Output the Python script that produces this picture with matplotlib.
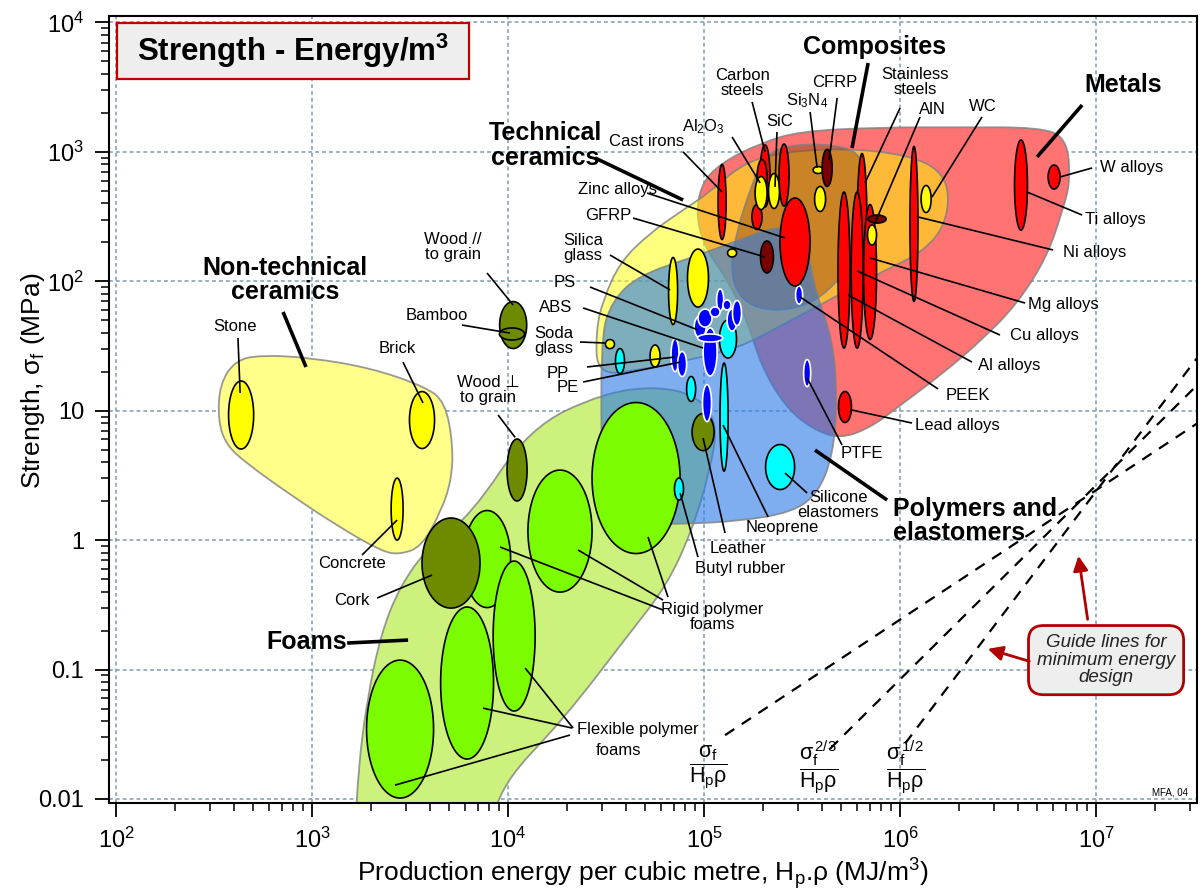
import numpy as np
import matplotlib
from matplotlib import pyplot as plt
from matplotlib.path import Path
from matplotlib.patches import PathPatch, Rectangle
from matplotlib.ticker import NullFormatter

matplotlib.use('Agg')

plt.rcParams['font.family'] = ['Liberation Sans', 'DejaVu Sans']
plt.rcParams['mathtext.fontset'] = 'custom'
plt.rcParams['mathtext.rm'] = 'Liberation Sans'
plt.rcParams['mathtext.it'] = 'Liberation Sans:italic'
plt.rcParams['mathtext.bf'] = 'Liberation Sans:bold'

# ---- all values as log10(production energy, MJ/m3) and log10(strength, MPa) ----

# family envelopes (outline control points)
foam_e = [3.22, 3.90, 3.97, 4.28, 4.62, 4.81, 4.94, 5.03, 5.07, 4.98, 4.78, 4.49, 4.11, 3.81, 3.60, 3.45, 3.35, 3.28, 3.235]
foam_s = [-2.30, -2.30, -1.88, -1.39, -0.72, -0.35, 0.08, 0.54, 0.89, 1.10, 1.19, 1.14, 0.87, 0.19, -0.04, -0.35, -0.73, -1.24, -1.78]

nontech_e = [2.52, 2.53, 2.61, 2.74, 2.99, 3.30, 3.57, 3.68, 3.72, 3.71, 3.66, 3.56, 3.45, 3.36, 3.14, 2.89, 2.66, 2.56]
nontech_s = [0.93, 1.21, 1.39, 1.43, 1.41, 1.33, 1.19, 1.07, 0.72, 0.46, 0.23, -0.05, -0.11, -0.09, 0.10, 0.35, 0.60, 0.74]

metal_e = [4.98, 5.08, 5.29, 5.49, 5.90, 6.31, 6.71, 6.85, 6.87, 6.83, 6.75, 6.60, 6.42, 6.22, 6.00, 5.85, 5.69, 5.54, 5.41, 5.29, 5.22, 5.12, 5.02, 4.96]
metal_s = [2.74, 2.91, 3.07, 3.16, 3.19, 3.19, 3.19, 3.11, 2.78, 2.55, 2.19, 1.83, 1.55, 1.29, 1.04, 0.87, 0.78, 0.87, 1.04, 1.35, 1.70, 2.01, 2.22, 2.47]

tech_e = [4.454, 4.449, 4.485, 4.571, 4.724, 4.878, 5.031, 5.219, 5.490, 5.796, 6.051, 6.204, 6.255, 6.219,
          6.102, 6.0, 5.796, 5.592, 5.352, 5.184, 4.929, 4.673]
tech_s = [1.276, 1.624, 1.856, 2.149, 2.373, 2.536, 2.690, 2.937, 3.015, 3.022, 2.968, 2.860, 2.667, 2.397,
          2.219, 2.141, 1.987, 1.817, 1.624, 1.492, 1.392, 1.315]

comp_e = [5.352, 5.490, 5.668, 5.786, 5.827, 5.827, 5.786, 5.694, 5.541, 5.337, 5.184, 5.133, 5.168, 5.235, 5.286]
comp_s = [3.015, 3.061, 3.053, 3.000, 2.822, 2.512, 2.242, 2.010, 1.817, 1.763, 1.856, 2.087, 2.397, 2.706, 2.899]

poly_e = [4.485, 4.469, 4.531, 4.673, 4.929, 5.179, 5.337, 5.464, 5.531, 5.566, 5.658, 5.679, 5.658, 5.582,
          5.454, 5.184, 4.878, 4.597]
poly_s = [0.117, 1.546, 1.856, 2.049, 2.180, 2.319, 2.412, 2.412, 2.242, 1.933, 1.546, 1.083, 0.658, 0.364,
          0.217, 0.147, 0.124, 0.124]

# material bubbles: centre and full span in decades
ell_kind = ['foam', 'natural', 'foam', 'foam', 'foam', 'foam', 'foam',
            'natural', 'natural', 'natural', 'natural',
            'ceramic', 'ceramic', 'ceramic',
            'elast', 'elast', 'elast', 'elast', 'elast', 'elast',
            'polymer', 'polymer', 'polymer', 'polymer', 'polymer', 'polymer', 'polymer', 'polymer',
            'polymer', 'polymer', 'polymer', 'polymer', 'polymer', 'polymer',
            'ceramic', 'ceramic', 'ceramic', 'ceramic',
            'metal', 'metal', 'metal', 'metal', 'ceramic', 'ceramic', 'metal', 'ceramic', 'composite', 'metal',
            'ceramic', 'ceramic', 'composite', 'metal', 'metal', 'metal', 'metal', 'ceramic', 'composite',
            'metal', 'ceramic', 'metal', 'metal', 'metal']
ell_e = [3.893, 3.709, 3.449, 3.791, 4.031, 4.265, 4.653,
         4.026, 4.020, 4.046, 4.995,
         2.638, 3.561, 3.434,
         4.872, 5.102, 5.388, 4.934, 4.571, 5.122,
         5.015, 4.852, 4.888, 5.526, 5.485, 5.031, 4.980, 5.005,
         5.143, 5.168, 5.082, 5.056, 5.117, 5.031,
         4.520, 4.750, 4.842, 4.969,
         5.092, 5.270, 5.311, 5.296, 5.291, 5.357, 5.408, 5.143, 5.321, 5.464,
         5.582, 5.592, 5.628, 5.806, 5.714, 5.781, 5.847, 5.857, 5.883,
         6.071, 6.133, 6.617, 6.786, 5.719]
ell_s = [-0.146, -0.177, -1.460, -1.104, -0.741, 0.070, 0.480,
         1.662, 1.593, 0.542, 0.835,
         0.967, 0.928, 0.240,
         0.395, 0.951, 0.565, 1.168, 1.384, 1.554,
         1.059, 1.430, 1.361, 1.291, 1.894, 1.454, 1.647, 1.716,
         1.701, 1.755, 1.856, 1.763, 1.817, 1.562,
         1.515, 1.423, 1.925, 2.025,
         2.613, 2.497, 2.814, 2.798, 2.682, 2.698, 2.821, 2.219, 2.188, 2.304,
         2.860, 2.636, 2.876, 2.412, 2.087, 2.087, 2.072, 2.358, 2.481,
         2.443, 2.636, 2.744, 2.806, 1.029]
ell_de = [0.240, 0.296, 0.342, 0.270, 0.214, 0.327, 0.449,
          0.138, 0.128, 0.102, 0.112,
          0.128, 0.128, 0.061,
          0.046, 0.041, 0.148, 0.046, 0.046, 0.087,
          0.046, 0.041, 0.046, 0.036, 0.036, 0.071, 0.061, 0.071,
          0.051, 0.046, 0.036, 0.051, 0.041, 0.128,
          0.046, 0.051, 0.046, 0.107,
          0.041, 0.051, 0.051, 0.051, 0.061, 0.056, 0.051, 0.046, 0.066, 0.153,
          0.051, 0.056, 0.051, 0.051, 0.061, 0.061, 0.066, 0.046, 0.092,
          0.041, 0.051, 0.066, 0.061, 0.066]
ell_ds = [0.750, 0.696, 1.066, 1.175, 1.159, 0.943, 1.167,
          0.363, 0.093, 0.479, 0.286,
          0.526, 0.440, 0.479,
          0.170, 0.835, 0.348, 0.193, 0.193, 0.294,
          0.286, 0.255, 0.193, 0.209, 0.139, 0.371, 0.170, 0.139,
          0.170, 0.193, 0.170, 0.077, 0.077, 0.062,
          0.070, 0.170, 0.518, 0.448,
          0.580, 0.193, 0.479, 0.286, 0.255, 0.270, 0.479, 0.062, 0.247, 0.680,
          0.054, 0.193, 0.286, 1.151, 1.206, 1.206, 1.043, 0.155, 0.062,
          1.198, 0.209, 0.696, 0.185, 0.240]

# guide lines: slope in log-log, a point on each line, first energy value
guide_slope = [1.0, 1.5, 2.0]
guide_pt_e = [6.306, 6.306, 6.321]
guide_pt_s = [-0.308, -0.617, -0.981]
guide_start_e = [5.107, 5.643, 6.026]

xticks = [2, 3, 4, 5, 6, 7]
yticks = [-2, -1, 0, 1, 2, 3, 4]
ytick_labels = ['0.01', '0.1', '1', '10', r'$\mathregular{10^{2}}$', r'$\mathregular{10^{3}}$', r'$\mathregular{10^{4}}$']

# ---- annotation layout (log coordinates) ----
labels = [
    ('W alloys', 7.020, 2.876, 'left'), ('Ti alloys', 6.944, 2.474, 'left'),
    ('Ni alloys', 6.832, 2.226, 'left'), ('Mg alloys', 6.653, 1.817, 'left'),
    ('Cu alloys', 6.561, 1.585, 'left'), ('Al alloys', 6.398, 1.353, 'left'),
    ('PEEK', 6.230, 1.121, 'left'), ('Lead alloys', 6.077, 0.889, 'left'),
    ('PTFE', 5.806, 0.673, 'center'), ('Silicone\nelastomers', 5.684, 0.271, 'center'),
    ('Neoprene', 5.398, 0.094, 'center'), ('Leather', 5.173, -0.061, 'center'),
    ('Butyl rubber', 5.184, -0.216, 'center'), ('PS', 4.291, 1.987, 'center'),
    ('ABS', 4.245, 1.801, 'center'), ('Soda\nglass', 4.235, 1.540, 'center'),
    ('PP', 4.255, 1.291, 'center'), ('PE', 4.306, 1.183, 'center'),
    ('Silica\nglass', 4.383, 2.257, 'center'), ('GFRP', 4.510, 2.512, 'center'),
    ('Zinc alloys', 4.556, 2.713, 'center'), ('Cast irons', 4.709, 3.084, 'center'),
    (r'Al$_\mathregular{2}$O$_\mathregular{3}$', 4.995, 3.192, 'center'),
    ('Carbon\nsteels', 5.194, 3.532, 'center'), ('SiC', 5.388, 3.231, 'center'),
    (r'Si$_\mathregular{3}$N$_\mathregular{4}$', 5.526, 3.393, 'center'),
    ('CFRP', 5.668, 3.540, 'center'), ('Stainless\nsteels', 6.077, 3.540, 'center'),
    ('AlN', 6.163, 3.324, 'center'), ('WC', 6.423, 3.347, 'center'),
    ('Stone', 2.607, 1.647, 'center'), ('Brick', 3.434, 1.477, 'center'),
    ('Concrete', 3.204, -0.177, 'center'), ('Cork', 3.204, -0.463, 'center'),
    ('Bamboo', 3.638, 1.732, 'center'), ('Wood //\nto grain', 3.719, 2.265, 'center'),
    ('Wood \u22a5\nto grain', 3.898, 1.160, 'center'),
    ('Rigid polymer\nfoams', 5.041, -0.594, 'center'),
    ('Flexible polymer', 4.663, -1.460, 'center'), ('foams', 4.561, -1.622, 'center'),
]
leaders = [
    (6.816, 2.806, 6.980, 2.876), (6.648, 2.690, 6.929, 2.512), (6.092, 2.497, 6.781, 2.242),
    (5.847, 2.180, 6.638, 1.832), (5.781, 2.080, 6.510, 1.585), (5.735, 1.894, 6.367, 1.376),
    (5.490, 1.879, 6.194, 1.168), (5.755, 1.005, 6.061, 0.905), (5.526, 1.253, 5.704, 0.735),
    (5.413, 0.519, 5.526, 0.364), (5.097, 0.889, 5.327, 0.179), (4.995, 0.789, 5.107, 0.055),
    (4.878, 0.364, 4.969, -0.131), (4.418, 1.956, 4.969, 1.624), (4.383, 1.794, 4.995, 1.485),
    (4.367, 1.531, 4.500, 1.523), (4.403, 1.338, 4.852, 1.415), (4.383, 1.222, 4.878, 1.376),
    (4.520, 2.203, 4.827, 1.933), (4.638, 2.489, 5.311, 2.188), (4.709, 2.682, 5.413, 2.335),
    (4.893, 3.000, 5.092, 2.690), (5.143, 3.115, 5.286, 2.760), (5.245, 3.386, 5.311, 3.000),
    (5.372, 3.154, 5.362, 2.729), (5.541, 3.308, 5.577, 2.876), (5.679, 3.417, 5.638, 2.937),
    (6.000, 3.339, 5.821, 2.760), (6.102, 3.270, 5.872, 2.451), (6.418, 3.270, 6.163, 2.651),
    (2.622, 1.562, 2.633, 1.137), (3.464, 1.376, 3.566, 1.060), (3.255, -0.115, 3.434, 0.155),
    (3.332, -0.447, 3.612, -0.270), (3.765, 1.662, 4.010, 1.600), (3.893, 2.064, 4.026, 1.817),
    (3.949, 0.967, 4.036, 0.794), (4.791, -0.540, 3.959, -0.053), (4.791, -0.463, 4.357, -0.076),
    (4.816, -0.440, 4.714, 0.024), (4.332, -1.452, 4.087, -0.988), (4.327, -1.452, 3.872, -1.298),
    (4.316, -1.506, 3.423, -1.893),
]
groups = [
    ('Metals', 7.138, 3.517, 'center'), ('Composites', 5.872, 3.811, 'center'),
    ('Technical\nceramics', 4.189, 3.053, 'center'), ('Non-technical\nceramics', 2.862, 2.010, 'center'),
    ('Foams', 2.974, -0.787, 'center'), ('Polymers and\nelastomers', 5.964, 0.148, 'left'),
]
group_leaders = [
    (6.929, 3.362, 6.699, 2.961), (5.837, 3.687, 5.755, 3.030), (4.444, 2.953, 4.893, 2.628),
    (2.852, 1.763, 2.969, 1.338), (3.179, -0.795, 3.490, -0.772), (5.566, 0.696, 5.934, 0.310),
]

face = {'foam': '#7cfc00', 'natural': '#6e8b00', 'ceramic': '#ffff00', 'elast': '#00ffff',
        'polymer': '#0000ff', 'metal': '#ff0000', 'composite': '#7a0000'}


def envelope(ax, le, ls, fc, z):
    """closed smooth outline (quadratic b-spline through the control points)"""
    p = np.column_stack([le, ls])
    mid = (p + np.roll(p, -1, axis=0)) / 2
    verts = [mid[-1]]
    codes = [Path.MOVETO]
    for i in range(len(p)):
        verts += [p[i], mid[i]]
        codes += [Path.CURVE3, Path.CURVE3]
    verts = 10 ** np.array(verts)
    ax.add_patch(PathPatch(Path(verts, codes), fc=fc, ec='#808080cc', lw=1.3, zorder=z))


def P(le, ls):
    return 10 ** le, 10 ** ls


fig = plt.figure(figsize=(12.03, 8.94), dpi=100)
ax = fig.add_axes([109 / 1203, 1 - 803 / 894, 1088 / 1203, 787 / 894])
ax.set_xscale('log')
ax.set_yscale('log')
ax.set_xlim(10 ** 1.964, 10 ** 7.515)
ax.set_ylim(10 ** -2.031, 10 ** 4.05)

envelope(ax, foam_e, foam_s, '#ccf27d', 1)
envelope(ax, nontech_e, nontech_s, '#ffff8a', 1)
envelope(ax, metal_e, metal_s, '#ff7373', 1.1)
envelope(ax, tech_e, tech_s, '#ffff0080', 1.2)
envelope(ax, comp_e, comp_s, '#8b451373', 1.3)
envelope(ax, poly_e, poly_s, '#2878e699', 1.4)

t = np.linspace(0, 2 * np.pi, 120)
for k, e, s, de, ds in zip(ell_kind, ell_e, ell_s, ell_de, ell_ds):
    ec = 'white' if k == 'polymer' else 'black'
    ax.fill(10 ** (e + de / 2 * np.cos(t)), 10 ** (s + ds / 2 * np.sin(t)),
            fc=face[k], ec=ec, lw=1.2, zorder=3)

for a, b, c, d in leaders:
    ax.plot([10 ** a, 10 ** c], [10 ** b, 10 ** d], color='black', lw=1.2, zorder=4, solid_capstyle='butt')
for a, b, c, d in group_leaders:
    ax.plot([10 ** a, 10 ** c], [10 ** b, 10 ** d], color='black', lw=2.6, zorder=4, solid_capstyle='butt')

for txt, a, b, ha in labels:
    ax.text(10 ** a, 10 ** b, txt, ha=ha, va='center', fontsize=12, linespacing=1.05, zorder=5)
for txt, a, b, ha in groups:
    ax.text(10 ** a, 10 ** b, txt, ha=ha, va='center', fontsize=18, fontweight='bold',
            linespacing=1.05, zorder=5, multialignment='center' if ha == 'center' else 'left')

# guide lines for minimum energy design
e_end = 7.515
for m, pe, ps, e0 in zip(guide_slope, guide_pt_e, guide_pt_s, guide_start_e):
    ee = np.array([e0, e_end])
    ax.plot(10 ** ee, 10 ** (ps + m * (ee - pe)), color='black', lw=1.6, ls=(0, (5, 4)), zorder=4)

frac_e = [5.020, 5.582, 6.026]
fracs = [r'$\dfrac{\mathrm{\sigma_f}}{\mathrm{H_p\rho}}$',
         r'$\dfrac{\mathrm{\sigma_f^{\,2/3}}}{\mathrm{H_p\rho}}$',
         r'$\dfrac{\mathrm{\sigma_f^{\,1/2}}}{\mathrm{H_p\rho}}$']
for fe, ft in zip(frac_e, fracs):
    ax.text(10 ** fe, 10 ** -1.753, ft, ha='center', va='center', fontsize=15.5, zorder=5)

ax.text(*P(7.051, -0.927), 'Guide lines for\nminimum energy\ndesign', ha='center', va='center',
        fontsize=13.5, style='italic', color='#222222', linespacing=1.05, zorder=6,
        bbox=dict(boxstyle='round,pad=0.45,rounding_size=0.8', fc='#eeeeee', ec='#b00000', lw=2))
ax.annotate('', xy=P(6.908, -0.100), xytext=P(6.959, -0.633),
            arrowprops=dict(arrowstyle='-|>', color='#b00000', lw=2, mutation_scale=22), zorder=6)
ax.annotate('', xy=P(6.434, -0.834), xytext=P(6.673, -0.942),
            arrowprops=dict(arrowstyle='-|>', color='#b00000', lw=2, mutation_scale=22), zorder=6)

ax.text(*P(7.378, -1.947), 'MFA, 04', ha='center', va='center', fontsize=7, zorder=5)

# title box
ax.add_patch(Rectangle((0.0074, 0.920), 0.3235, 0.071, transform=ax.transAxes, fc='#eeeeee',
                       ec='#c00000', lw=1.6, zorder=7))
ax.text(0.169, 0.956, r'Strength - Energy/m$\mathbf{^{3}}$', transform=ax.transAxes, ha='center',
        va='center', fontsize=22.5, fontweight='bold', zorder=8)

# axes and grid
ax.set_xticks([10 ** v for v in xticks])
ax.set_xticklabels([r'$\mathregular{10^{%d}}$' % v for v in xticks])
ax.set_yticks([10 ** v for v in yticks])
ax.set_yticklabels(ytick_labels)
ax.xaxis.set_minor_formatter(NullFormatter())
ax.yaxis.set_minor_formatter(NullFormatter())
ax.tick_params(which='major', direction='out', length=10, width=1.3, labelsize=17, pad=8)
ax.tick_params(which='minor', direction='out', length=6, width=1.1)
ax.grid(True, which='major', color='#7a9cb0', ls=(0, (2.5, 2)), lw=1.1)
ax.set_axisbelow(True)
for sp in ax.spines.values():
    sp.set_linewidth(1.5)

ax.set_xlabel(r'Production energy per cubic metre, H$_\mathregular{p}$.ρ (MJ/m$^\mathregular{3}$)', fontsize=19)
ax.set_ylabel(r'Strength, σ$_\mathregular{f}$ (MPa)', fontsize=19)
ax.xaxis.set_label_coords(0.491, -0.068)
ax.yaxis.set_label_coords(-0.057, 0.537)

fig.savefig('out.png', dpi=100)
